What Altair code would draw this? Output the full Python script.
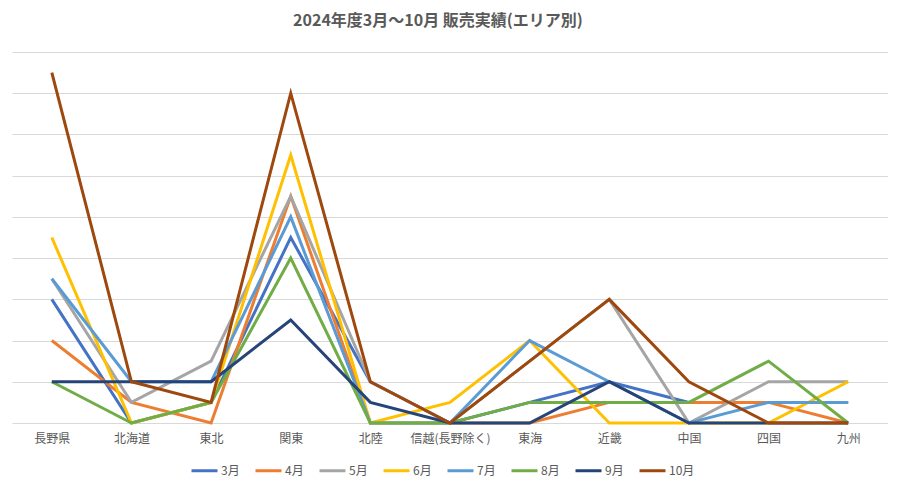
import altair as alt
import pandas as pd

regions = ["長野県", "北海道", "東北", "関東", "北陸", "信越(長野除く)", "東海", "近畿", "中国", "四国", "九州"]
months = ["3月", "4月", "5月", "6月", "7月", "8月", "9月", "10月"]
colors = ["#4472C4", "#ED7D31", "#A5A5A5", "#FFC000", "#5B9BD5", "#70AD47", "#264478", "#9E480E"]

m3 = [6, 0, 1, 9, 2, 0, 1, 2, 1, 1, 1]
m4 = [4, 1, 0, 11, 0, 0, 0, 1, 1, 1, 0]
m5 = [7, 1, 3, 11, 2, 0, 3, 6, 0, 2, 2]
m6 = [9, 0, 1, 13, 0, 1, 4, 0, 0, 0, 2]
m7 = [7, 2, 2, 10, 0, 0, 4, 2, 0, 1, 1]
m8 = [2, 0, 1, 8, 0, 0, 1, 1, 1, 3, 0]
m9 = [2, 2, 2, 5, 1, 0, 0, 2, 0, 0, 0]
m10 = [17, 2, 1, 16, 2, 0, 3, 6, 2, 0, 0]

series = [m3, m4, m5, m6, m7, m8, m9, m10]

rows = []
for mon, vals in zip(months, series):
    for r, v in zip(regions, vals):
        rows.append({"region": r, "month": mon, "value": v})
df = pd.DataFrame(rows)

FONT = "Noto Sans CJK JP"

base = alt.Chart(df).encode(
    x=alt.X("region:N", sort=regions, scale=alt.Scale(type="point", padding=0.5),
            axis=alt.Axis(title=None, labelAngle=0, domain=False, ticks=False, grid=False,
                          labelFont=FONT, labelFontSize=12, labelColor="#595959", labelPadding=10)),
    y=alt.Y("value:Q", scale=alt.Scale(domain=[0, 18], nice=False),
            axis=alt.Axis(title=None, values=list(range(0, 19, 2)), labels=False, domain=False,
                          ticks=False, grid=True, gridColor="#D9D9D9", gridWidth=1)),
    color=alt.Color("month:N", sort=months, scale=alt.Scale(domain=months, range=colors),
                    legend=alt.Legend(title=None, orient="none", direction="horizontal",
                                      legendX=178, legendY=404,
                                      symbolType="stroke", symbolStrokeWidth=3, symbolSize=676,
                                      labelFont=FONT, labelFontSize=12, labelColor="#595959",
                                      columnPadding=9, labelOffset=2)),
)

layers = [base.transform_filter(alt.datum.month == mon).mark_line(strokeWidth=3) for mon in months]

chart = alt.layer(*layers).properties(
    width=876, height=371,
    title=alt.TitleParams("2024年度3月～10月 販売実績(エリア別)", font=FONT, fontSize=16,
                          fontWeight="bold", color="#595959", anchor="middle", offset=23, dx=-12),
    autosize=alt.AutoSizeParams(type="none"),
    padding={"left": 4, "top": 44, "right": 0, "bottom": 56},
).configure_view(stroke=None)

chart.save("out.html", embed_options={"renderer": "svg", "actions": False})
